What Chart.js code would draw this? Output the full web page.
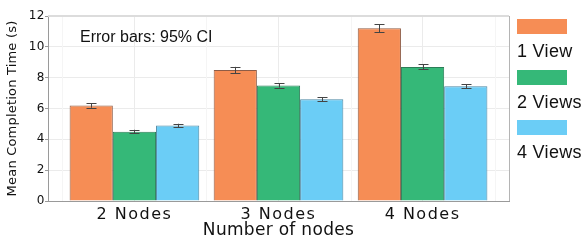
<!DOCTYPE html>
<html lang="en">
<head>
<meta charset="UTF-8" />
<title>Mean completion time by number of nodes</title>
<style>
  html, body { margin: 0; padding: 0; background: #fff; }
  #wrap { position: relative; width: 587px; height: 241px; }
  #legend { position: absolute; left: 517px; top: 19px; font-family: "Liberation Sans", Arial, sans-serif; font-size: 18px; line-height: 18px; color: #111; letter-spacing: 0.3px; }
  .item { position: absolute; left: 0; white-space: nowrap; }
  .box { width: 50px; height: 15px; }
  .label { margin-top: 8px; }
</style>
</head>
<body>
<div id="wrap">
  <canvas id="chart"></canvas>
  <div id="legend"></div>
</div>
<script src="https://cdn.jsdelivr.net/npm/chart.js"></script>
<script>
// data
const categories = ['2 Nodes', '3 Nodes', '4 Nodes'];
const nodeX = [1, 2, 3];
const seriesNames = ['1 View', '2 Views', '4 Views'];
const oneView = [6.2, 8.5, 11.2];
const twoViews = [4.5, 7.5, 8.7];
const fourViews = [4.9, 6.6, 7.45];
const oneViewCI = [0.15, 0.2, 0.25];
const twoViewsCI = [0.12, 0.14, 0.17];
const fourViewsCI = [0.11, 0.13, 0.13];

const fills = ['#F68D55', '#35B878', '#6BCDF6'];
const edges = ['#8E5C46', '#2B7D57', '#4B87A3'];

const MAJOR = '#ebebeb', MINOR = '#f5f5f5', AXIS = '#9a9a9a';

Chart.defaults.font.family = 'DejaVu Sans';
Chart.defaults.color = '#111';

function makeSet(i, values, ci) {
  return {
    label: seriesNames[i],
    data: values.map((v, j) => ({ x: nodeX[j], y: v })),
    ci: ci,
    backgroundColor: fills[i],
    borderColor: edges[i],
    borderWidth: { left: 1, right: 1, top: 1, bottom: 0 },
    borderSkipped: false,
    categoryPercentage: 0.9,
    barPercentage: 1.0
  };
}

// wider text, the reference axis text looks stretched sideways
const spacingPlugin = {
  id: 'spacing',
  beforeDraw(chart) {
    const ctx = chart.ctx;
    const wrap = (scale, fn, sp) => {
      if (scale['_sp_' + fn]) return;
      const orig = scale[fn];
      scale['_sp_' + fn] = true;
      scale[fn] = function (...args) {
        ctx.save();
        ctx.letterSpacing = sp;
        orig.apply(this, args);
        ctx.restore();
      };
    };
    wrap(chart.scales.x, 'drawLabels', '1.5px');
    wrap(chart.scales.x, 'drawTitle', '0.3px');
    wrap(chart.scales.y, 'drawLabels', '0.5px');
    wrap(chart.scales.y, 'drawTitle', '0.2px');
  }
};

// minor vertical grid between the groups, and the top/right frame
const panelPlugin = {
  id: 'panel',
  beforeDatasetsDraw(chart) {
    const { ctx, chartArea: a, scales: { x } } = chart;
    ctx.save();
    ctx.strokeStyle = MINOR;
    ctx.lineWidth = 1;
    [0.5, 1.5, 2.5, 3.5].forEach(v => {
      const px = Math.round(x.getPixelForValue(v)) + 0.5;
      ctx.beginPath();
      ctx.moveTo(px, a.top);
      ctx.lineTo(px, a.bottom);
      ctx.stroke();
    });
    ctx.restore();
  },
  afterDraw(chart) {
    const { ctx, chartArea: a } = chart;
    ctx.save();
    ctx.strokeStyle = '#dcdcdc';
    ctx.lineWidth = 2;
    ctx.beginPath();
    ctx.moveTo(a.left, a.top);
    ctx.lineTo(a.right, a.top);
    ctx.stroke();
    ctx.strokeStyle = '#b4b4b4';
    ctx.lineWidth = 1;
    ctx.beginPath();
    ctx.moveTo(Math.round(a.right) + 0.5, a.top);
    ctx.lineTo(Math.round(a.right) + 0.5, a.bottom);
    ctx.stroke();
    // annotation
    ctx.font = '16px "Liberation Sans", Arial, sans-serif';
    ctx.fillStyle = '#111';
    ctx.textBaseline = 'alphabetic';
    ctx.fillText('Error bars: 95% CI', a.left + 32, a.top + 26);
    ctx.restore();
  }
};

const errorBarPlugin = {
  id: 'errorBars',
  afterDatasetsDraw(chart) {
    const { ctx, scales: { y } } = chart;
    ctx.save();
    ctx.strokeStyle = '#444';
    ctx.lineWidth = 1;
    chart.data.datasets.forEach((ds, i) => {
      chart.getDatasetMeta(i).data.forEach((bar, j) => {
        const v = ds.data[j].y, e = ds.ci[j];
        const top = y.getPixelForValue(v + e), bot = y.getPixelForValue(v - e);
        const cx = Math.round(bar.x) + 0.5;
        ctx.beginPath();
        ctx.moveTo(cx, top); ctx.lineTo(cx, bot);
        ctx.moveTo(cx - 5, Math.round(top) + 0.5); ctx.lineTo(cx + 5, Math.round(top) + 0.5);
        ctx.moveTo(cx - 5, Math.round(bot) + 0.5); ctx.lineTo(cx + 5, Math.round(bot) + 0.5);
        ctx.stroke();
      });
    });
    ctx.restore();
  }
};

const chart = new Chart(document.getElementById('chart'), {
  type: 'bar',
  data: {
    datasets: [
      makeSet(0, oneView, oneViewCI),
      makeSet(1, twoViews, twoViewsCI),
      makeSet(2, fourViews, fourViewsCI)
    ]
  },
  options: {
    responsive: true,
    maintainAspectRatio: false,
    animation: false,
    layout: { padding: { top: 16, right: 78, bottom: 0, left: 0 } },
    plugins: { legend: { display: false }, tooltip: { enabled: false } },
    scales: {
      x: {
        type: 'linear',
        min: 0.4,
        max: 3.6,
        offset: false,
        afterBuildTicks: s => { s.ticks = nodeX.map(v => ({ value: v })); },
        afterFit: s => { s.height = 40; },
        ticks: {
          callback: v => categories[nodeX.indexOf(v)] || '',
          font: { size: 16 },
          padding: 4,
          maxRotation: 0,
          autoSkip: false
        },
        grid: { offset: false, color: MAJOR, drawTicks: false },
        border: { color: AXIS },
        title: {
          display: true,
          text: 'Number of nodes',
          font: { size: 17 },
          padding: { top: 0, bottom: 0 }
        }
      },
      y: {
        min: 0,
        max: 12,
        afterFit: s => { s.width = 48; },
        ticks: {
          stepSize: 1,
          callback: v => (v % 2 === 0 ? v : ''),
          font: { size: 12 },
          padding: 0
        },
        grid: {
          color: c => (c.tick && c.tick.value % 2 === 0 ? MAJOR : MINOR),
          tickLength: 3,
          tickColor: c => (c.tick && c.tick.value % 2 === 0 ? AXIS : 'rgba(0,0,0,0)')
        },
        border: { color: AXIS },
        title: {
          display: true,
          text: 'Mean Completion Time (s)',
          font: { size: 13 },
          padding: { top: 5, bottom: 0 }
        }
      }
    }
  },
  plugins: [spacingPlugin, panelPlugin, errorBarPlugin]
});

// legend: box above label, as in the reference
const legend = document.getElementById('legend');
chart.data.datasets.forEach((ds, i) => {
  const item = document.createElement('div');
  item.className = 'item';
  item.style.top = (i * 50 + (i ? 1 : 0)) + 'px';
  const box = document.createElement('div');
  box.className = 'box';
  box.style.background = ds.backgroundColor;
  const label = document.createElement('div');
  label.className = 'label';
  label.textContent = ds.label;
  item.appendChild(box);
  item.appendChild(label);
  legend.appendChild(item);
});
</script>
</body>
</html>
